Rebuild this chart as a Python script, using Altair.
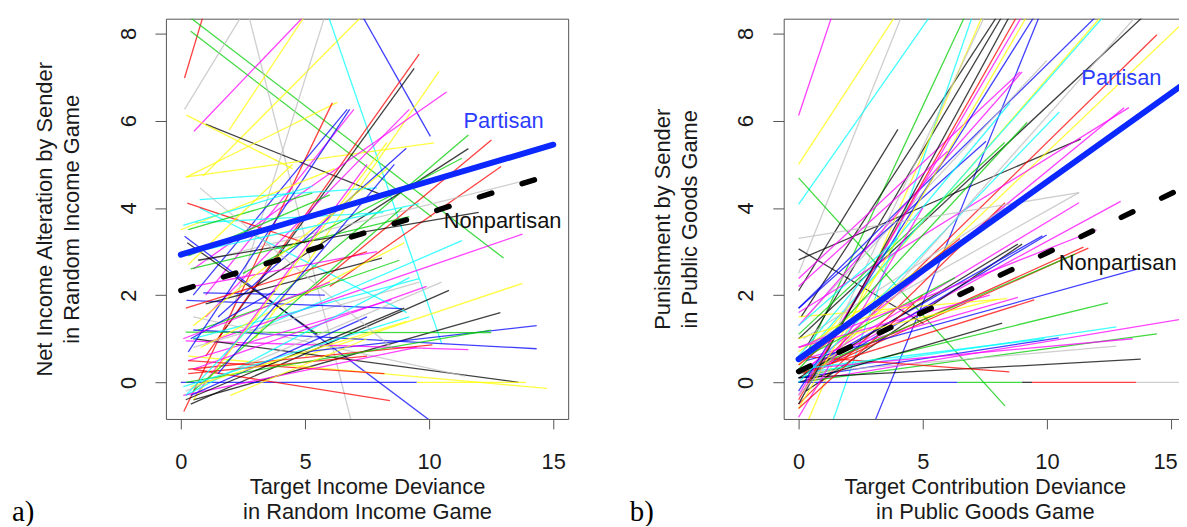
import altair as alt
import pandas as pd

# R default palette codes
palette = {"k": "#000000", "r": "#FF0000", "g": "#00CD00", "b": "#0000FF",
           "c": "#00FFFF", "m": "#FF00FF", "y": "#FFFF00", "a": "#BEBEBE"}

# ---- panel a: individual sender lines (x0, y0, x1, y1, colour) ----
left_segments = [
    (0.15, 6.98, 0.95, 8.5, "r"), (0.3, 8.4, 13.0, 2.85, "g"), (0.4, 8.05, 10.1, 3.8, "g"),
    (0.15, 6.26, 2.5, 8.45, "a"), (2.74, 8.4, 6.85, -0.86, "a"), (0.53, 5.76, 5.05, 8.45, "m"),
    (1.95, 5.79, 5.05, 8.45, "y"), (0.89, 4.73, 7.3, 8.4, "y"), (5.94, 8.4, 10.5, 0.9, "c"),
    (7.31, 8.4, 10.05, 5.64, "b"), (1.0, 5.92, 8.1, 4.3, "k"), (0.23, 6.13, 4.5, 4.9, "y"),
    (0.2, 4.7, 6.3, 6.42, "y"), (0.23, 4.71, 10.2, 5.49, "y"), (2.0, 1.5, 5.8, 8.4, "a"),
    (1.5, 1.0, 9.4, 7.2, "k"), (1.0, 0.6, 9.6, 7.53, "r"), (3.0, 1.0, 10.4, 7.13, "y"),
    (0.5, 2.6, 10.7, 6.66, "m"), (1.0, 1.5, 9.2, 6.26, "m"), (0.12, -0.67, 6.1, 6.41, "r"),
    (0.5, 2.0, 6.7, 6.26, "b"), (1.0, 2.0, 6.97, 6.26, "m"), (4.0, 2.0, 11.58, 5.67, "g"),
    (5.0, 2.0, 12.51, 5.56, "r"), (3.0, 2.2, 11.58, 5.36, "k"), (2.5, 2.5, 11.32, 5.14, "g"),
    (6.0, 2.2, 12.9, 4.95, "r"), (1.0, 2.8, 14.3, 4.69, "a"), (1.5, 1.5, 9.08, 5.37, "b"),
    (0.15, 3.35, 10.0, -0.86, "b"), (0.26, 3.2, 5.5, 1.1, "k"), (1.0, 0.9, 13.76, 3.4, "m"),
    (3.0, 1.2, 11.32, 3.25, "c"), (5.0, 0.6, 13.76, 2.27, "y"), (0.4, -0.5, 10.8, 2.11, "k"),
    (0.5, -0.4, 12.87, 1.6, "k"), (5.0, 0.7, 14.33, 1.3, "b"), (0.5, 1.2, 14.33, 0.77, "b"),
    (0.2, 1.15, 12.5, 1.14, "g"), (0.2, 0.95, 11.58, 0.75, "m"), (0.5, 1.0, 13.6, 0.0, "k"),
    (0.3, 0.6, 14.75, -0.14, "y"), (0.0, 0.0, 9.5, 0.0, "b"), (9.5, 0.0, 13.9, 0.0, "y"),
    (0.5, 0.3, 8.42, -0.42, "r"), (0.5, 1.5, 11.45, 0.14, "a"), (0.5, 1.0, 9.6, 2.38, "c"),
    (0.5, 0.8, 9.6, 2.3, "a"), (0.3, 0.5, 8.48, 1.89, "m"), (0.76, 4.0, 9.1, 1.6, "c"),
    (0.23, 1.88, 8.9, 1.69, "b"), (0.9, 2.05, 5.8, 2.0, "b"), (0.3, 0.3, 10.13, 0.86, "r"),
    (0.26, 4.11, 5.0, 3.2, "r"), (0.6, 3.66, 8.15, 3.89, "c"), (0.76, 4.19, 7.9, 4.46, "c"),
    (0.3, 3.5, 5.3, 4.34, "g"), (0.4, 2.6, 9.2, 3.8, "g"), (0.7, 2.8, 12.0, 3.9, "k"),
    (0.5, 2.2, 7.9, 3.0, "m"), (1.0, 1.8, 8.1, 2.85, "k"), (0.7, 1.2, 8.8, 2.8, "g"),
    (0.8, 0.8, 9.0, 3.2, "y"), (0.3, 0.7, 6.8, 6.26, "b"), (0.6, -0.3, 7.5, 5.0, "m"),
    (0.5, -0.4, 8.3, 5.5, "y"), (0.5, -0.2, 8.9, 4.0, "g"), (0.2, -0.3, 9.2, 2.4, "c"),
    (0.2, -0.2, 10.5, 2.3, "a"), (0.3, 0.2, 7.5, 0.6, "r"), (0.3, 0.5, 8.2, 0.2, "r"),
    (0.1, -0.3, 9.5, 0.8, "m"), (0.4, -0.3, 7.5, 1.5, "b"), (0.2, 0.0, 12.5, 1.2, "g"),
    (0.2, -0.4, 9.0, 1.7, "k"), (0.4, -0.1, 9.1, 1.4, "y"), (0.1, -0.1, 9.2, 1.5, "c"),
    (0.5, 0.3, 9.9, 2.2, "m"), (0.2, 1.7, 7.5, 3.0, "r"), (0.77, 4.46, 8.5, 0.8, "a"),
    (0.3, 2.9, 6.0, 4.3, "g"), (0.4, 1.0, 3.8, 2.1, "b"), (0.1, 1.0, 6.0, 2.3, "m"),
    (0.3, 2.7, 4.5, 5.0, "y"), (0.2, -0.3, 4.0, 2.0, "c"), (2.0, -0.3, 7.5, 1.0, "y"),
    (0.0, 3.5, 6.2, 4.9, "y"), (0.5, 1.3, 8.3, 4.9, "y"), (1.5, 0.2, 8.6, 5.0, "b"),
    (0.6, 3.0, 9.6, 4.1, "c"), (0.1, 3.6, 5.3, 4.5, "c"),
]

# ---- panel b: individual sender lines ----
right_segments = [
    (0.0, 6.12, 1.4, 8.5, "m"), (0.0, 5.0, 3.95, 8.45, "y"), (0.0, 2.5, 4.15, 8.4, "a"),
    (0.0, 4.08, 5.3, 8.4, "c"), (0.0, 4.69, 8.31, -0.54, "g"), (0.2, 0.5, 6.7, 8.4, "g"),
    (0.0, 2.1, 4.0, 5.8, "k"), (0.0, 2.81, 11.36, 5.58, "k"), (0.0, 3.06, 5.03, 1.35, "k"),
    (0.3, 0.8, 8.2, 8.4, "k"), (0.1, 1.5, 8.0, 8.4, "k"), (3.1, -0.85, 9.7, 8.4, "b"),
    (1.4, -0.85, 7.0, 8.4, "c"), (0.4, -0.85, 7.4, 8.4, "y"), (0.0, 1.0, 13.9, 8.4, "k"),
    (0.5, 0.2, 14.43, 7.97, "r"), (0.8, 0.3, 15.4, 8.2, "y"), (0.3, 0.3, 13.11, 6.3, "m"),
    (0.0, 0.4, 12.2, 8.4, "y"), (0.2, 0.6, 12.3, 8.4, "c"), (0.0, 1.7, 12.0, 8.4, "b"),
    (0.3, 1.5, 10.0, 7.38, "a"), (0.0, 2.38, 8.92, 7.12, "m"), (0.5, 0.9, 11.29, 4.35, "a"),
    (0.2, 0.3, 11.29, 4.12, "m"), (0.5, 0.3, 12.97, 4.15, "m"), (0.0, -0.5, 8.31, 4.12, "r"),
    (0.2, 1.0, 8.3, 4.0, "a"), (0.3, 0.1, 9.99, 3.38, "b"), (0.3, -0.2, 9.0, 3.17, "k"),
    (0.4, 0.2, 11.67, 3.08, "r"), (0.3, 0.5, 13.67, 2.6, "b"), (0.0, 0.1, 12.46, 1.82, "g"),
    (0.0, 0.0, 16.0, 1.5, "m"), (0.0, 0.0, 14.43, 1.11, "g"), (0.0, 0.2, 12.8, 1.27, "c"),
    (0.0, 0.1, 10.48, 1.02, "b"), (0.0, 0.3, 13.45, 1.0, "m"), (0.0, 0.2, 12.8, 0.83, "a"),
    (0.0, 0.1, 13.78, 0.53, "k"), (0.0, 0.6, 8.49, 0.24, "r"), (0.0, 0.2, 9.49, 1.89, "r"),
    (0.0, 0.5, 8.83, 1.95, "m"), (0.0, 1.5, 8.4, 1.92, "y"), (0.0, 0.0, 8.2, 1.36, "k"),
    (0.2, 0.2, 11.47, 3.1, "r"), (0.0, 0.2, 11.14, 2.94, "g"), (0.0, 0.2, 9.82, 3.36, "b"),
    (0.0, 0.1, 8.83, 3.17, "k"), (0.0, 0.0, 6.4, 0.0, "b"), (6.4, 0.0, 9.0, 0.0, "g"),
    (9.0, 0.0, 9.4, 0.0, "k"), (9.4, 0.0, 13.6, 0.0, "r"), (13.6, 0.0, 16.0, 0.0, "a"),
    (0.5, 0.0, 7.5, 8.4, "a"), (0.0, 1.7, 7.55, 5.53, "b"), (0.0, 1.3, 9.0, 7.12, "m"),
    (0.0, 0.7, 9.0, 4.2, "y"), (0.0, 0.6, 8.5, 6.4, "c"), (0.0, 1.1, 8.3, 5.5, "g"),
    (0.0, 1.6, 13.3, 6.3, "m"), (0.0, -0.2, 9.5, 8.4, "b"), (0.0, -0.4, 8.8, 8.4, "r"),
    (0.0, -0.3, 9.0, 8.4, "m"), (0.0, -0.6, 9.2, 8.4, "y"), (0.0, -0.5, 8.5, 8.4, "k"),
    (0.0, 0.0, 10.5, 6.2, "c"), (0.0, -0.8, 5.0, 4.0, "m"), (0.0, 0.3, 9.2, 5.96, "g"),
    (0.0, 0.8, 8.0, 1.9, "y"), (0.0, 0.4, 6.5, 3.3, "r"), (0.0, 0.8, 7.7, 2.0, "m"),
    (0.0, -0.3, 13.6, 8.4, "a"), (0.0, 3.3, 11.3, 4.35, "a"), (0.0, 0.3, 9.9, 1.0, "c"),
    (0.0, 0.5, 6.3, 2.4, "g"), (0.0, -0.6, 5.0, 2.0, "r"), (0.0, 1.3, 4.0, 3.3, "c"),
    (0.0, 2.2, 6.0, 5.3, "m"), (0.0, 1.0, 5.0, 1.9, "y"), (0.0, 0.8, 12.0, 3.5, "m"),
]

# ---- fitted group lines (x0, y0, x1, y1) ----
left_partisan = (0.0, 2.93, 15.0, 5.45)
left_nonpartisan = (0.0, 2.11, 15.0, 4.78)
right_partisan = (0.0, 0.53, 16.0, 7.04)
right_nonpartisan = (0.0, 0.25, 16.0, 4.60)

# ---- annotation positions (data units) ----
left_labels = [("Partisan", 13.0, 5.83, "#2B3CFF"), ("Nonpartisan", 12.96, 3.55, "#111111")]
right_labels = [("Partisan", 13.0, 6.83, "#2B3CFF"), ("Nonpartisan", 12.85, 2.58, "#111111")]

x_ticks = [0, 5, 10, 15]
y_ticks = [0, 2, 4, 6, 8]

FONT = "Liberation Sans"
W, H = 405, 403


def panel(segs, part, nonpart, labels, ytitle, xtitle, tag, last_label_shift=0):
    df = pd.DataFrame(segs, columns=["x0", "y0", "x1", "y1", "c"])
    df["color"] = df["c"].map(palette)
    xs = alt.Scale(domain=[-0.6, 15.6], nice=False, zero=False)
    ys = alt.Scale(domain=[-0.84, 8.34], nice=False, zero=False)
    common = dict(grid=False, domain=False, ticks=True, tickColor="#555555", tickWidth=1,
                  labelFont=FONT, labelFontSize=22, labelColor="#1a1a1a",
                  labelFlush=False, labelOverlap=False,
                  titleFont=FONT, titleFontSize=22, titleFontWeight="normal",
                  titleColor="#1a1a1a")
    xaxis = alt.Axis(values=x_ticks, tickSize=10, labelPadding=23, title=xtitle,
                     titlePadding=4, titleLineHeight=25,
                     labelOffset={"expr": f"datum.value == 15 ? {last_label_shift} : 0"},
                     **common)
    yaxis = alt.Axis(values=y_ticks, tickSize=11, labelAngle=270, labelAlign="center",
                     labelBaseline="alphabetic", labelPadding=20, title=ytitle,
                     titlePadding=34, titleLineHeight=27, **common)
    enc = dict(x=alt.X("x0:Q", scale=xs, axis=xaxis), y=alt.Y("y0:Q", scale=ys, axis=yaxis),
               x2="x1:Q", y2="y1:Q")

    thin = alt.Chart(df).mark_rule(clip=True, strokeWidth=1.3, opacity=0.75).encode(
        color=alt.Color("color:N", scale=None), **enc)
    fdf_p = pd.DataFrame([part], columns=["x0", "y0", "x1", "y1"])
    fdf_n = pd.DataFrame([nonpart], columns=["x0", "y0", "x1", "y1"])
    p_line = alt.Chart(fdf_p).mark_rule(clip=True, strokeWidth=6, color="#0A28FF",
                                        strokeCap="round").encode(**enc)
    n_line = alt.Chart(fdf_n).mark_rule(clip=True, strokeWidth=5.5, color="#000000",
                                        strokeCap="round", strokeDash=[13, 32]).encode(**enc)
    ldf = pd.DataFrame(labels, columns=["text", "x0", "y0", "col"])
    txt = alt.Chart(ldf).mark_text(font=FONT, fontSize=22, align="center",
                                   baseline="alphabetic").encode(
        x=alt.X("x0:Q", scale=xs, axis=xaxis), y=alt.Y("y0:Q", scale=ys, axis=yaxis),
        text="text:N", color=alt.Color("col:N", scale=None))
    tagc = alt.Chart(pd.DataFrame({"tag": [tag]})).mark_text(
        align="left", baseline="alphabetic", font="Liberation Serif", fontSize=29,
        color="#000000", x=-155, y=506).encode(text="tag:N")
    return alt.layer(thin, p_line, n_line, txt, tagc).properties(width=W, height=H)


left = panel(left_segments, left_partisan, left_nonpartisan, left_labels,
             ["Net Income Alteration by Sender", "in Random Income Game"],
             ["Target Income Deviance", "in Random Income Game"], "a)")
right = panel(right_segments, right_partisan, right_nonpartisan, right_labels,
              ["Punishment by Sender", "in Public Goods Game"],
              ["Target Contribution Deviance", "in Public Goods Game"], "b)",
              last_label_shift=-6)

chart = alt.hconcat(left, right, spacing=217, bounds="flush").properties(
    padding={"left": 3, "top": 8, "right": -8, "bottom": -4},
    background="white",
).configure_view(stroke="#555555", strokeWidth=1)

chart.save("out.html", embed_options={"renderer": "svg", "actions": False})
